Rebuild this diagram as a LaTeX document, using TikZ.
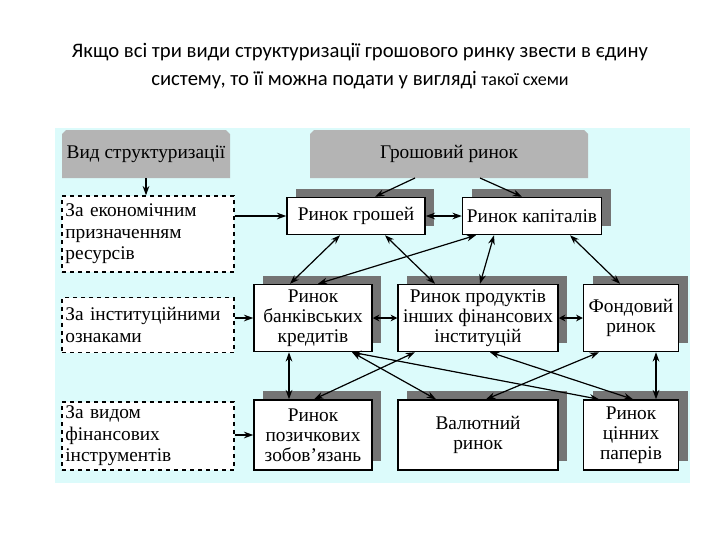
\documentclass[tikz,border=0pt]{standalone}
\usepackage{fontspec}
\setmainfont{Liberation Serif}
\newfontfamily\ttl{Carlito}
\usetikzlibrary{arrows.meta,calc}
\definecolor{bgc}{HTML}{DCFBFB}
\definecolor{hdr}{HTML}{B4B4B4}
\definecolor{shd}{HTML}{747474}
\begin{document}
\begin{tikzpicture}[x=0.75pt,y=-0.75pt,
  box/.style={draw=black,line width=1.1pt,fill=white,align=center,inner sep=1pt,font=\fontsize{14.5}{15}\selectfont},
  dbox/.style={draw=black,dashed,line width=1pt,fill=white,align=left,inner sep=2pt,font=\fontsize{14.5}{16}\selectfont,text width=124pt,minimum width=129pt},
  arr/.style={-{Stealth[length=7pt,width=5pt]},line width=0.9pt},
  darr/.style={{Stealth[length=7pt,width=5pt]}-{Stealth[length=7pt,width=5pt]},line width=0.9pt},
  sarr/.style={{Stealth[open,length=5pt,width=5pt]}-{Stealth[open,length=5pt,width=5pt]},line width=0.9pt}]
\useasboundingbox (0,0) rectangle (720,540);
\fill[white] (0,0) rectangle (720,540);
\node[font=\ttl\fontsize{15.5}{21}\selectfont,align=center] (title) at (360,66) {Якщо всі три види структуризації грошового ринку звести в єдину\\систему, то її можна подати у вигляді {\fontsize{13.5}{21}\selectfont такої схеми}};
\fill[bgc] (55,128) rectangle (690,483);
% headers
\fill[hdr] (62,178) -- (62,134) -- (66,130) -- (226,130) -- (230,134) -- (230,178) -- cycle;
\fill[hdr] (310,178) -- (310,134) -- (314,130) -- (584,130) -- (588,134) -- (588,178) -- cycle;
\node[font=\fontsize{14.5}{15}\selectfont] (vid) at (146,154) {Вид структуризації};
\node[font=\fontsize{14.5}{15}\selectfont] (grosh) at (449,154) {Грошовий ринок};
\path (146,178) coordinate (vidb);
\path (449,178) coordinate (groshb);
% shadows
\foreach \cx/\cy/\w/\h in {356/216/138/37, 532/216/139/37, 313/318/118/67, 478/318/160/67, 631/318/95/67, 313/435/118/70, 478/435/160/70, 631/435/95/70}
  \fill[shd] (\cx-\w/2+9,\cy-\h/2-9) rectangle (\cx+\w/2+9,\cy+\h/2-9);
% left dashed boxes
\node[dbox,minimum height=76*0.75pt] (e1) at (148,234) {За економічним\\призначенням\\ресурсів};
\node[dbox,minimum height=55*0.75pt] (e2) at (148,325) {За інституційними\\ознаками};
\node[dbox,minimum height=68*0.75pt] (e3) at (148,436) {За видом\\фінансових\\інструментів};
% boxes
\tikzset{sz/.style 2 args={minimum width=#1*0.75pt,minimum height=#2*0.75pt}}
\node[box,sz={138}{37}] (rg) at (356,216) {Ринок грошей};
\node[box,sz={139}{37}] (rk) at (532,216) {Ринок капіталів};
\node[box,sz={118}{67}] (bk) at (313,318) {Ринок\\банківських\\кредитів};
\node[box,sz={160}{67}] (pr) at (478,318) {Ринок продуктів\\інших фінансових\\інституцій};
\node[box,sz={95}{67}] (fd) at (631,318) {Фондовий\\ринок};
\node[box,sz={118}{70}] (pz) at (313,435) {Ринок\\позичкових\\зобов’язань};
\node[box,sz={160}{70}] (vl) at (478,435) {Валютний\\ринок};
\node[box,sz={95}{70}] (cp) at (631,435) {Ринок\\цінних\\паперів};
% arrows
\draw[arr] (vidb) -- (e1.north -| vidb);
\draw[arr] ([xshift=-34*0.75pt]groshb) -- ([xshift=19*0.75pt]rg.north);
\draw[arr] ([xshift=31*0.75pt]groshb) -- ([xshift=-10*0.75pt]rk.north);
\draw[arr] (e1.east |- rg.west) -- (rg.west);
\draw[darr] (rg.east) -- (rk.west);
\draw[darr] ([xshift=-16*0.75pt]rg.south) -- ([xshift=-23*0.75pt]bk.north);
\draw[darr] ([xshift=29*0.75pt]rg.south) -- ([xshift=-43*0.75pt]pr.north);
\draw[darr] ([xshift=-56*0.75pt]rk.south) -- ([xshift=5*0.75pt]bk.north);
\draw[darr] ([xshift=-38*0.75pt]rk.south) -- ([xshift=2*0.75pt]pr.north);
\draw[darr] ([xshift=38*0.75pt]rk.south) -- ([xshift=-11*0.75pt]fd.north);
\draw[arr] (e2.east |- bk.west) -- (bk.west);
\draw[sarr] (bk.east) -- (pr.west);
\draw[sarr] (pr.east) -- (fd.west);
\draw[darr] ([xshift=-24*0.75pt]bk.south) -- ([xshift=-24*0.75pt]pz.north);
\draw[darr] ([xshift=-63*0.75pt]pr.south) -- ([xshift=1*0.75pt]pz.north);
\draw[darr] ([xshift=39*0.75pt]bk.south) -- ([xshift=-42*0.75pt]vl.north);
\draw[darr] ([xshift=39*0.75pt]bk.south) -- ([xshift=-32*0.75pt]cp.north);
\draw[darr] ([xshift=12*0.75pt]pr.south) -- ([xshift=2*0.75pt]cp.north);
\draw[darr] ([xshift=-32*0.75pt]fd.south) -- ([xshift=8*0.75pt]vl.north);
\draw[darr] ([xshift=25*0.75pt]fd.south) -- ([xshift=25*0.75pt]cp.north);
\draw[arr] (e3.east |- pz.west) -- (pz.west);
\end{tikzpicture}
\end{document}
